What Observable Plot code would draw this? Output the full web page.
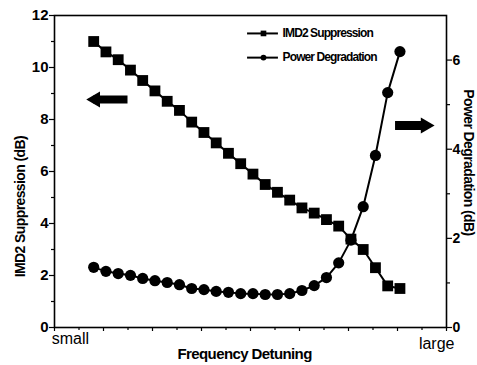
<!DOCTYPE html>
<html>
<head>
<meta charset="utf-8">
<script src="https://cdn.jsdelivr.net/npm/d3@7"></script>
<script src="https://cdn.jsdelivr.net/npm/@observablehq/plot@0.6"></script>
<style>
  html, body { margin: 0; padding: 0; background: #fff; }
  svg { display: block; }
</style>
</head>
<body>
<div id="chart"></div>
<script>
// ---- data ----
const detuning = [1.6, 2.1, 2.6, 3.1, 3.6, 4.1, 4.6, 5.1, 5.6, 6.1, 6.6, 7.1, 7.6,
                  8.1, 8.6, 9.1, 9.6, 10.1, 10.6, 11.1, 11.6, 12.1, 12.6, 13.1, 13.6, 14.1];
const imd2Suppression = [11.0, 10.6, 10.3, 9.9, 9.5, 9.1, 8.7, 8.35, 7.9, 7.5, 7.1, 6.7, 6.3,
                         5.9, 5.5, 5.2, 4.9, 4.6, 4.4, 4.15, 3.9, 3.4, 3.0, 2.3, 1.6, 1.5];
const powerDegradation = [1.35, 1.26, 1.21, 1.17, 1.10, 1.05, 1.01, 0.96, 0.875, 0.85, 0.81, 0.79, 0.76,
                          0.76, 0.74, 0.74, 0.76, 0.83, 0.94, 1.12, 1.45, 1.96, 2.71, 3.86, 5.27, 6.19];
const leftTicks = [0, 2, 4, 6, 8, 10, 12];
const leftMinor = [1, 3, 5, 7, 9, 11];
const rightTicks = [0, 2, 4, 6];
const rightMinor = [1, 3, 5];
const xTicks = d3.range(0, 17);
const leftMax = 12, rightMax = 7;
const seriesNames = ["IMD2 Suppression", "Power Degradation"];
const axisTitles = ["IMD2 Suppression (dB)", "Power Degradation (dB)", "Frequency Detuning"];

const toLeft = v => v * leftMax / rightMax;

const sq = detuning.map((x, i) => ({x, y: imd2Suppression[i]}));
const ci = detuning.map((x, i) => ({x, y: toLeft(powerDegradation[i])}));

const sans = "'Liberation Sans', Arial, sans-serif";

// legend entries (annotation positions in data units)
const legend = [
  {name: seriesNames[0], y: 11.31, symbol: "square", r: 5.2},
  {name: seriesNames[1], y: 10.38, symbol: "circle", r: 4.4}
];
const legX1 = 7.88, legX2 = 9.14, legXm = 8.53, legXt = 9.31;

const chart = Plot.plot({
  width: 477,
  height: 365,
  marginLeft: 54,
  marginRight: 31,
  marginTop: 15,
  marginBottom: 38,
  x: {domain: [0, 16], axis: null},
  y: {domain: [0, leftMax], axis: null},
  style: {fontFamily: sans, background: "#fff"},
  marks: [
    Plot.frame({stroke: "#000", strokeWidth: 1.6}),
    // bottom axis ticks
    Plot.axisX({ticks: xTicks.filter(d => d % 2 === 0), tickSize: 4, tickFormat: () => "", strokeWidth: 1.2, label: null}),
    Plot.axisX({ticks: xTicks.filter(d => d % 2 === 1), tickSize: 3, tickFormat: () => "", strokeWidth: 1.2, label: null}),
    // left axis
    Plot.axisY({ticks: leftTicks, tickSize: 5, tickPadding: 1, fontSize: 15, fontWeight: "bold",
                fontFamily: sans, strokeWidth: 1.2, label: null}),
    Plot.axisY({ticks: leftMinor, tickSize: 3, tickFormat: () => "", strokeWidth: 1.2, label: null}),
    // right axis
    Plot.axisY({anchor: "right", ticks: rightTicks.map(toLeft), tickSize: 5, tickPadding: 1,
                tickFormat: d => String(Math.round(d * rightMax / leftMax)),
                fontSize: 14, fontWeight: "bold", fontFamily: sans, strokeWidth: 1.2, label: null}),
    Plot.axisY({anchor: "right", ticks: rightMinor.map(toLeft), tickSize: 3, tickFormat: () => "",
                strokeWidth: 1.2, label: null}),
    // axis titles
    Plot.text([axisTitles[0]], {frameAnchor: "left", y: 4.65, dx: -34, rotate: -90,
      textAnchor: "middle", lineAnchor: "middle",
      fontSize: 14, fontWeight: "bold", fontFamily: sans, fill: "#000"}),
    Plot.text([axisTitles[1]], {frameAnchor: "right", y: 6.35, dx: 22, rotate: 90,
      textAnchor: "middle", lineAnchor: "middle",
      fontSize: 14, fontWeight: "bold", fontFamily: sans, fill: "#000"}),
    Plot.text([axisTitles[2]], {frameAnchor: "bottom", x: 7.76, dy: 27,
      textAnchor: "middle", lineAnchor: "middle",
      fontSize: 15, fontWeight: "bold", fontFamily: sans, fill: "#000"}),
    Plot.text(["small"], {frameAnchor: "bottom", x: 0.65, dy: 11.5, textAnchor: "middle", lineAnchor: "middle",
      fontSize: 16, fontFamily: sans, fill: "#000"}),
    Plot.text(["large"], {frameAnchor: "bottom", x: 15.6, dy: 16.5, textAnchor: "middle", lineAnchor: "middle",
      fontSize: 16, fontFamily: sans, fill: "#000"}),
    // series
    Plot.line(sq, {x: "x", y: "y", stroke: "#000", strokeWidth: 2}),
    Plot.dot(sq, {x: "x", y: "y", symbol: "square", r: 6.1, fill: "#000", stroke: "none"}),
    Plot.line(ci, {x: "x", y: "y", stroke: "#000", strokeWidth: 2}),
    Plot.dot(ci, {x: "x", y: "y", symbol: "circle", r: 5.6, fill: "#000", stroke: "none"}),
    // arrows (annotations)
    Plot.ruleY([8.77], {x1: 1.6, x2: 3.0, stroke: "#000", strokeWidth: 8}),
    Plot.dot([8.77], {x: 1.67, y: d => d, symbol: "triangle", r: 5.9, rotate: -90, fill: "#000"}),
    Plot.ruleY([7.77], {x1: 13.92, x2: 15.2, stroke: "#000", strokeWidth: 9}),
    Plot.dot([7.77], {x: 15.14, y: d => d, symbol: "triangle", r: 5.9, rotate: 90, fill: "#000"}),
    // legend
    Plot.ruleY(legend, {y: "y", x1: legX1, x2: legX2, stroke: "#000", strokeWidth: 2}),
    Plot.dot(legend, {x: legXm, y: "y", symbol: "symbol", r: "r", fill: "#000"}),
    Plot.text(legend, {x: legXt, y: "y", text: "name", textAnchor: "start", fontSize: 12,
      fontWeight: "bold", fontFamily: sans, fill: "#000"})
  ]
});
// condensed look of the original typeface
d3.select(chart).selectAll("text").each(function() {
  const t = this.textContent;
  if (seriesNames.includes(t)) this.style.letterSpacing = "-0.9px";
  else if (axisTitles.includes(t)) this.style.letterSpacing = "-0.6px";
});
document.getElementById("chart").appendChild(chart);
</script>
</body>
</html>
